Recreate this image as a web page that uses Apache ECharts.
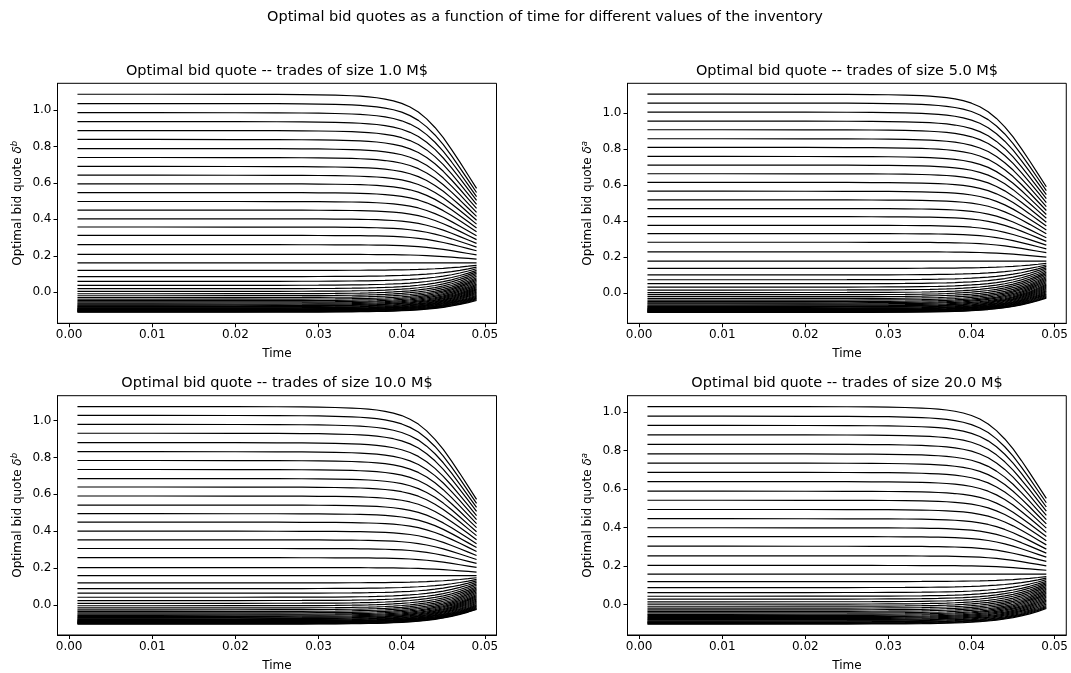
<!DOCTYPE html>
<html>
<head>
<meta charset="utf-8">
<script src="https://cdn.jsdelivr.net/npm/echarts@6/dist/echarts.min.js"></script>
<style>
html,body{margin:0;padding:0;background:#fff;}
#chart{width:1071px;height:673px;}
</style>
</head>
<body>
<div id="chart"></div>
<script>
// ---- data ----
const suptitle = 'Optimal bid quotes as a function of time for different values of the inventory';
const panelTitles = [
  'Optimal bid quote -- trades of size 1.0 M$',
  'Optimal bid quote -- trades of size 5.0 M$',
  'Optimal bid quote -- trades of size 10.0 M$',
  'Optimal bid quote -- trades of size 20.0 M$'
];
const ySup = ['b', 'a', 'b', 'a'];
const xTicks = [0, 0.01, 0.02, 0.03, 0.04, 0.05];
const yTicks = [0, 0.2, 0.4, 0.6, 0.8, 1.0];

// time grid at which the curves are sampled
const timeGrid = [0.001, 0.010, 0.020, 0.025, 0.028, 0.030, 0.032, 0.034, 0.035, 0.036, 0.037, 0.038, 0.039, 0.040, 0.041, 0.042, 0.043, 0.044, 0.045, 0.046, 0.047, 0.048, 0.049];
// fraction of the total change reached at each time (read from the top / bottom curves)
const fallProfile = [0, 0, 0.001, 0.002, 0.004, 0.006, 0.010, 0.016, 0.021, 0.028, 0.037, 0.051, 0.070, 0.097, 0.136, 0.189, 0.262, 0.353, 0.462, 0.588, 0.722, 0.861, 1.0];
const riseProfile = [0, 0, 0.002, 0.004, 0.007, 0.010, 0.016, 0.027, 0.035, 0.044, 0.057, 0.073, 0.095, 0.122, 0.156, 0.201, 0.257, 0.327, 0.416, 0.527, 0.662, 0.821, 1.0];

// panel 1 (1.0 M$): value at t=0.001 and at t=0.049 for each inventory level
const startP1 = [1.086, 1.035, 0.985, 0.936, 0.887, 0.838, 0.788, 0.739, 0.690, 0.642, 0.595, 0.547, 0.498, 0.451, 0.403, 0.358, 0.312, 0.261, 0.208, 0.161,
  0.120, 0.086, 0.060, 0.038, 0.020, 0.005, -0.008, -0.019, -0.029, -0.038, -0.046, -0.053, -0.059, -0.065, -0.070, -0.074, -0.078, -0.082, -0.085, -0.088,
  -0.091, -0.093, -0.095, -0.097, -0.099, -0.101, -0.103, -0.105, -0.107, -0.109];
const endP1 = [0.570, 0.547, 0.525, 0.504, 0.482, 0.460, 0.438, 0.416, 0.395, 0.374, 0.353, 0.332, 0.310, 0.289, 0.268, 0.248, 0.228, 0.205, 0.182, 0.161,
  0.148, 0.138, 0.129, 0.120, 0.112, 0.104, 0.096, 0.088, 0.080, 0.073, 0.066, 0.059, 0.052, 0.045, 0.038, 0.031, 0.025, 0.019, 0.013, 0.007,
  0.001, -0.005, -0.011, -0.017, -0.022, -0.027, -0.032, -0.036, -0.041, -0.045];

// panel 2 (5.0 M$)
const startP2 = [1.103, 1.054, 1.004, 0.954, 0.906, 0.856, 0.808, 0.758, 0.710, 0.662, 0.614, 0.565, 0.517, 0.469, 0.424, 0.376, 0.330, 0.282, 0.229, 0.177,
  0.137, 0.101, 0.074, 0.052, 0.033, 0.017, 0.003, -0.009, -0.020, -0.030, -0.039, -0.047, -0.054, -0.060, -0.066, -0.071, -0.075, -0.079, -0.083, -0.086,
  -0.089, -0.092, -0.094, -0.096, -0.098, -0.100, -0.102, -0.104, -0.106, -0.107];
const endP2 = [0.590, 0.568, 0.546, 0.524, 0.502, 0.480, 0.458, 0.436, 0.415, 0.393, 0.372, 0.350, 0.329, 0.307, 0.287, 0.266, 0.245, 0.224, 0.200, 0.177,
  0.165, 0.156, 0.148, 0.140, 0.132, 0.124, 0.116, 0.108, 0.100, 0.092, 0.085, 0.078, 0.071, 0.064, 0.057, 0.050, 0.044, 0.038, 0.032, 0.026,
  0.020, 0.014, 0.008, 0.002, -0.004, -0.009, -0.014, -0.019, -0.024, -0.028];

// panel 3 (10.0 M$)
const startP3 = [1.077, 1.029, 0.980, 0.932, 0.881, 0.832, 0.784, 0.735, 0.686, 0.640, 0.591, 0.542, 0.495, 0.449, 0.400, 0.353, 0.306, 0.256, 0.202, 0.159,
  0.119, 0.088, 0.063, 0.041, 0.023, 0.008, -0.005, -0.017, -0.027, -0.036, -0.044, -0.051, -0.057, -0.063, -0.068, -0.072, -0.076, -0.080, -0.083, -0.086,
  -0.089, -0.091, -0.093, -0.095, -0.097, -0.099, -0.101, -0.103, -0.105];
const endP3 = [0.573, 0.551, 0.529, 0.508, 0.485, 0.463, 0.441, 0.419, 0.397, 0.376, 0.354, 0.332, 0.311, 0.290, 0.268, 0.246, 0.225, 0.203, 0.178, 0.159,
  0.147, 0.138, 0.130, 0.122, 0.114, 0.106, 0.098, 0.091, 0.084, 0.077, 0.070, 0.063, 0.056, 0.050, 0.044, 0.038, 0.032, 0.026, 0.020, 0.014,
  0.008, 0.002, -0.003, -0.008, -0.012, -0.016, -0.020, -0.023, -0.025];

// panel 4 (20.0 M$)
const startP4 = [1.029, 0.979, 0.931, 0.882, 0.833, 0.783, 0.735, 0.687, 0.639, 0.589, 0.542, 0.494, 0.446, 0.399, 0.353, 0.303, 0.253, 0.203, 0.158,
  0.119, 0.088, 0.062, 0.043, 0.028, 0.014, 0.002, -0.009, -0.019, -0.028, -0.036, -0.044, -0.051, -0.057, -0.063, -0.068, -0.073, -0.078, -0.082, -0.086,
  -0.090, -0.093, -0.096, -0.099, -0.102];
const endP4 = [0.552, 0.529, 0.507, 0.485, 0.463, 0.441, 0.419, 0.397, 0.375, 0.353, 0.332, 0.310, 0.288, 0.267, 0.246, 0.224, 0.201, 0.178, 0.158,
  0.145, 0.137, 0.129, 0.121, 0.114, 0.107, 0.100, 0.093, 0.086, 0.079, 0.072, 0.065, 0.058, 0.051, 0.044, 0.037, 0.030, 0.023, 0.016, 0.009,
  0.002, -0.005, -0.011, -0.016, -0.021];

const yRanges = [[-0.170, 1.146], [-0.1675, 1.1635], [-0.164, 1.136], [-0.1586, 1.0856]];
const xRange = [-0.0014, 0.0514];

// ---- layout ----
const FONT = 'DejaVu Sans';
const grids = [
  {left: 57.5, top: 83.3, width: 439, height: 240},
  {left: 627.5, top: 83.3, width: 439, height: 240},
  {left: 57.5, top: 395.7, width: 439, height: 240},
  {left: 627.5, top: 395.7, width: 439, height: 240}
];
const starts = [startP1, startP2, startP3, startP4];
const ends = [endP1, endP2, endP3, endP4];

const option = {
  animation: false,
  backgroundColor: '#fff',
  textStyle: {fontFamily: FONT, color: '#000'},
  title: [{
    text: suptitle, left: 545, top: 10, textAlign: 'center', padding: 0,
    textStyle: {fontFamily: FONT, fontSize: 14.5, fontWeight: 'normal', color: '#000'}
  }].concat(panelTitles.map((t, i) => ({
    text: t, left: grids[i].left + grids[i].width / 2, top: grids[i].top - 19.5, textAlign: 'center', padding: 0,
    textStyle: {fontFamily: FONT, fontSize: 14.5, fontWeight: 'normal', color: '#000'}
  }))),
  grid: grids.map(g => Object.assign({show: true, borderColor: '#000', borderWidth: 1, backgroundColor: 'transparent'}, g)),
  xAxis: grids.map((g, i) => ({
    type: 'value', gridIndex: i, min: xRange[0], max: xRange[1],
    name: 'Time', nameLocation: 'middle', nameGap: 25,
    nameTextStyle: {fontFamily: FONT, fontSize: 12, color: '#000'},
    splitLine: {show: false},
    axisLine: {show: true, onZero: false, lineStyle: {color: '#000', width: 1}},
    axisTick: {show: true, length: 4, customValues: xTicks, lineStyle: {color: '#000', width: 1}},
    axisLabel: {customValues: xTicks, margin: 6, fontFamily: FONT, fontSize: 12, color: '#000',
      formatter: v => Number(v).toFixed(2)}
  })),
  yAxis: grids.map((g, i) => ({
    type: 'value', gridIndex: i, min: yRanges[i][0], max: yRanges[i][1],
    name: '{n|Optimal bid quote }{d|δ}{s|' + ySup[i] + '}',
    nameLocation: 'middle', nameGap: 32, nameRotate: 90,
    nameTextStyle: {fontFamily: FONT, fontSize: 12, color: '#000',
      rich: {
        n: {fontFamily: FONT, fontSize: 12, color: '#000', lineHeight: 15},
        d: {fontFamily: FONT, fontSize: 12, color: '#000', fontStyle: 'italic', lineHeight: 15},
        s: {fontFamily: FONT, fontSize: 8.5, color: '#000', fontStyle: 'italic', verticalAlign: 'top', lineHeight: 15}
      }},
    splitLine: {show: false},
    axisLine: {show: true, onZero: false, lineStyle: {color: '#000', width: 1}},
    axisTick: {show: true, length: 4, customValues: yTicks, lineStyle: {color: '#000', width: 1}},
    axisLabel: {customValues: yTicks, margin: 6, fontFamily: FONT, fontSize: 12, color: '#000',
      formatter: v => Number(v).toFixed(1)}
  })),
  series: []
};

for (let p = 0; p < 4; p++) {
  const s0 = starts[p], s1 = ends[p];
  for (let k = 0; k < s0.length; k++) {
    const prof = s1[k] < s0[k] ? fallProfile : riseProfile;
    const data = timeGrid.map((t, j) => [t, s0[k] + (s1[k] - s0[k]) * prof[j]]);
    option.series.push({
      type: 'line', xAxisIndex: p, yAxisIndex: p, data: data,
      showSymbol: false, symbol: 'none', silent: true, clip: true,
      lineStyle: {color: '#000', width: 1.2}
    });
  }
}

const chart = echarts.init(document.getElementById('chart'), null, {renderer: 'canvas'});
chart.setOption(option);
</script>
</body>
</html>
